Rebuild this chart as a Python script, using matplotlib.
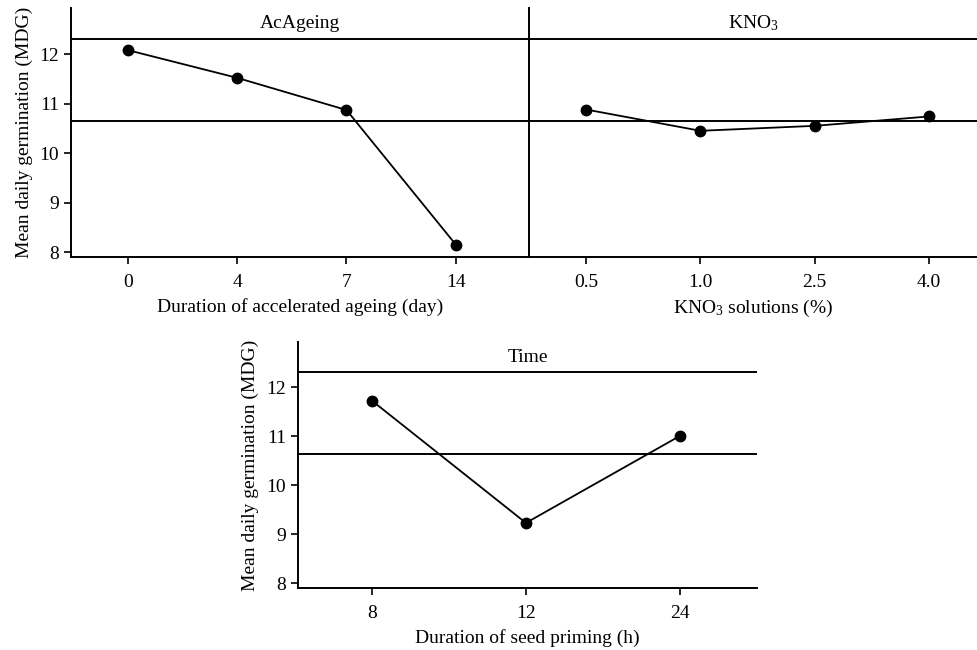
import matplotlib
matplotlib.use("Agg")
import matplotlib.pyplot as plt

plt.rcParams.update({
    "font.family": ["Liberation Serif", "DejaVu Serif"],
    "mathtext.fontset": "custom",
    "mathtext.rm": "Liberation Serif",
    "mathtext.it": "Liberation Serif:italic",
    "font.size": 14,
    "axes.linewidth": 1.4,
    "xtick.major.width": 1.2,
    "ytick.major.width": 1.2,
    "xtick.major.size": 5,
    "ytick.major.size": 5,
    "xtick.major.pad": 7,
})

# data
ageing_labels = ["0", "4", "7", "14"]
ageing_mdg = [12.08, 11.52, 10.87, 8.15]

kno3_labels = ["0.5", "1.0", "2.5", "4.0"]
kno3_mdg = [10.88, 10.45, 10.55, 10.74]

time_labels = ["8", "12", "24"]
time_mdg = [11.73, 9.23, 11.01]

grand_mean = 10.64
strip_line = 12.31
ylims = (7.9, 12.93)


def panel(ax, labels, vals, xlim, title, xlabel, left_ticks=True):
    x = range(len(labels))
    ax.axhline(grand_mean, color="black", lw=1.4)
    ax.axhline(strip_line, color="black", lw=1.4)
    ax.plot(x, vals, color="black", lw=1.3, marker="o", ms=7.5)
    ax.set_xlim(*xlim)
    ax.set_ylim(*ylims)
    ax.set_xticks(list(x))
    ax.set_xticklabels(labels)
    ax.set_xlabel(xlabel, labelpad=5)
    ax.text(0.5, (strip_line + ylims[1]) / 2, title,
            transform=ax.get_yaxis_transform(), ha="center", va="center")
    ax.spines["top"].set_visible(False)
    ax.spines["right"].set_visible(False)
    if left_ticks:
        ax.set_yticks([8, 9, 10, 11, 12])
        ax.set_ylabel("Mean daily germination (MDG)", labelpad=5)
    else:
        ax.set_yticks([])


fig = plt.figure(figsize=(9.77, 6.5), dpi=100)

ax1 = fig.add_axes([0.0727, 0.6046, 0.4688, 0.383])
panel(ax1, ageing_labels, ageing_mdg, (-0.52, 3.67), "AcAgeing",
      "Duration of accelerated ageing (day)")

ax2 = fig.add_axes([0.5414, 0.6046, 0.4586, 0.383])
panel(ax2, kno3_labels, kno3_mdg, (-0.5, 3.42), "KNO$_3$",
      "KNO$_3$ solutions (%)", left_ticks=False)

ax3 = fig.add_axes([0.305, 0.0954, 0.4698, 0.3785])
panel(ax3, time_labels, time_mdg, (-0.48, 2.5), "Time",
      "Duration of seed priming (h)")

fig.savefig("out.png", dpi=100, facecolor="white")
